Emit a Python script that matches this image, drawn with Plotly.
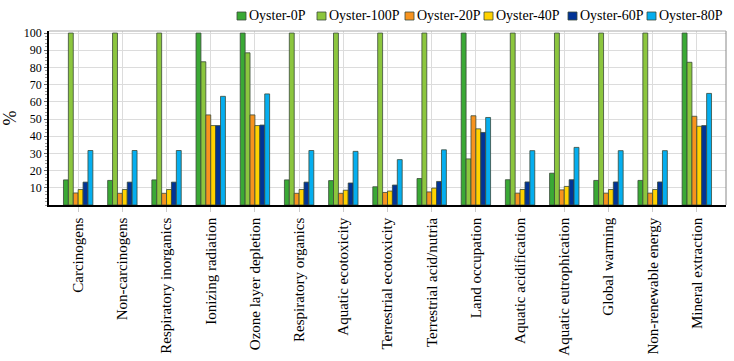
import plotly.graph_objects as go

categories = [
    "Carcinogens", "Non-carcinogens", "Respiratory inorganics", "Ionizing radiation",
    "Ozone layer depletion", "Respiratory organics", "Aquatic ecotoxicity",
    "Terrestrial ecotoxicity", "Terrestrial acid/nutria", "Land occupation",
    "Aquatic acidification", "Aquatic eutrophication", "Global warming",
    "Non-renewable energy", "Mineral extraction",
]

oyster_0p = [14.6, 14.3, 14.6, 100, 100, 14.6, 14.2, 10.6, 15.4, 100, 14.7, 18.5, 14.3, 14.3, 100]
oyster_100p = [100, 100, 100, 83.3, 88.5, 100, 100, 100, 100, 26.8, 100, 100, 100, 100, 83.0]
oyster_20p = [7.0, 6.8, 6.8, 52.4, 52.4, 6.8, 6.8, 7.3, 7.6, 51.9, 6.9, 8.8, 6.9, 6.9, 51.6]
oyster_40p = [9.0, 9.0, 9.0, 46.2, 46.2, 9.0, 8.6, 8.1, 9.8, 44.3, 9.0, 10.8, 9.0, 9.0, 45.8]
oyster_60p = [13.3, 13.3, 13.3, 46.2, 46.5, 13.3, 12.8, 11.6, 13.7, 42.2, 13.4, 14.7, 13.4, 13.4, 46.2]
oyster_80p = [31.7, 31.7, 31.7, 63.2, 64.6, 31.7, 31.2, 26.4, 32.1, 50.9, 31.6, 33.5, 31.6, 31.6, 64.9]

series = [
    ("Oyster-0P", oyster_0p, "#3aa935"),
    ("Oyster-100P", oyster_100p, "#8cc63e"),
    ("Oyster-20P", oyster_20p, "#f7931e"),
    ("Oyster-40P", oyster_40p, "#ffd200"),
    ("Oyster-60P", oyster_60p, "#013396"),
    ("Oyster-80P", oyster_80p, "#05aeef"),
]

serif = "Times New Roman, Liberation Serif, DejaVu Serif, serif"
W, H = 734, 361
ML, MR, MT, MB = 49, 8, 31, 156
PW, PH = W - ML - MR, H - MT - MB

# hand-placed legend (pixel x of each swatch)
legend_px = [237, 317, 405, 484, 568, 647]


def px_x(px):
    return (px - ML) / PW


def px_y(py):
    return 1 + (MT - py) / PH


fig = go.Figure()
shapes = []
annotations = []
for (name, vals, color), lx in zip(series, legend_px):
    fig.add_trace(
        go.Bar(
            x=categories,
            y=vals,
            name=name,
            showlegend=False,
            marker=dict(color=color, line=dict(color="#3a4a3a", width=0.8)),
        )
    )
    shapes.append(dict(
        type="rect", xref="paper", yref="paper",
        x0=px_x(lx), x1=px_x(lx + 9), y0=px_y(20), y1=px_y(12),
        fillcolor=color, line=dict(color="#3a4a3a", width=0.8),
    ))
    annotations.append(dict(
        xref="paper", yref="paper", x=px_x(lx + 10), y=px_y(16),
        xanchor="left", yanchor="middle", showarrow=False,
        text=name, font=dict(family=serif, size=14, color="black"),
    ))

shapes += [
    dict(type="line", xref="paper", yref="paper", x0=1, x1=1, y0=0, y1=1,
         line=dict(color="#888", width=1)),
    dict(type="line", xref="paper", yref="paper", x0=0, x1=1, y0=1, y1=1,
         line=dict(color="#aaa", width=1)),
]

fig.update_layout(
    width=W,
    height=H,
    barmode="group",
    bargap=0.335,
    bargroupgap=0,
    plot_bgcolor="white",
    paper_bgcolor="white",
    margin=dict(l=ML, r=MR, t=MT, b=MB, autoexpand=False),
    font=dict(family=serif, color="black"),
    showlegend=False,
    yaxis=dict(
        range=[0, 101.2],
        tickvals=[10, 20, 30, 40, 50, 60, 70, 80, 90, 100],
        tickfont=dict(family=serif, size=12),
        showgrid=True,
        gridcolor="#dcdcdc",
        gridwidth=1,
        showline=True,
        linecolor="black",
        linewidth=1.5,
        ticks="outside",
        ticklen=3,
        tickcolor="#666",
        minor=dict(ticks="outside", ticklen=2, tickcolor="#999", dtick=2),
        zeroline=False,
        automargin=False,
        title=dict(text="%", font=dict(family=serif, size=18), standoff=9),
    ),
    xaxis=dict(
        range=[-0.66, 14.66],
        tickangle=-90,
        tickfont=dict(family=serif, size=15),
        showgrid=True,
        gridcolor="#dcdcdc",
        showline=True,
        linecolor="black",
        linewidth=1.5,
        ticks="outside",
        ticklen=5,
        tickcolor="#ccc",
        automargin=False,
    ),
    shapes=shapes,
    annotations=annotations,
)

# page has a default 8px body margin; drop it so the figure sits at the corner
fig.write_html(
    "out.html",
    config={"displayModeBar": False},
    post_script="document.body.style.margin='0';",
)
